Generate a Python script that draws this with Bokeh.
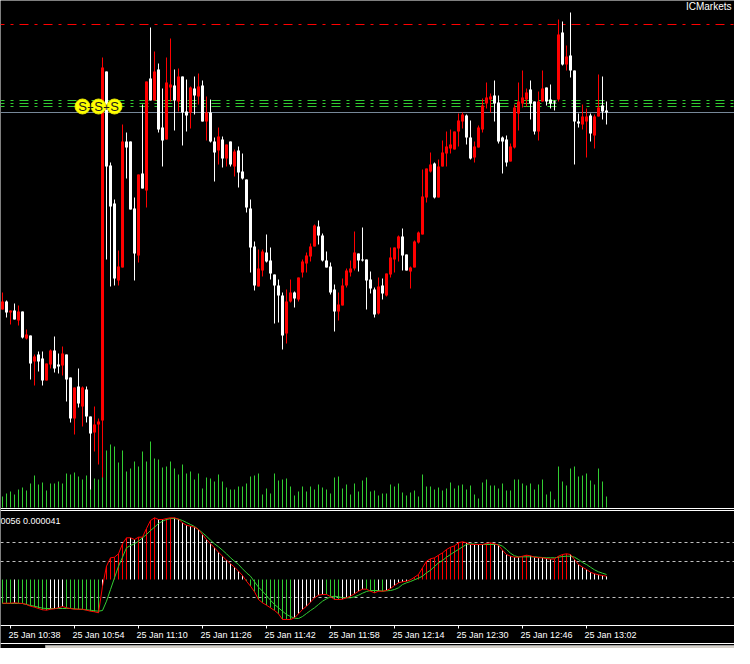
import numpy as np
from bokeh.plotting import figure
from bokeh.models import Range1d, Span
from bokeh.core.properties import value
from bokeh.embed import file_html
from bokeh.resources import INLINE

# ---------------- data (M1 bars, prices in points) ----------------
opens = [275,283,272,274,264,273,246,249,223,230, 226,204,220,234,220,219,230,207,166,198,
         178,195,168,152,160,164,513,419,381,304, 317,443,443,376,329,411,394,506,484,515,
         457,445,497,499,483,508,473,472,496,488, 499,463,472,443,434,445,426,443,418,434,
         413,405,376,338,298,314,332,324,310,299, 289,251,283,292,285,312,321,328,338,358,
         349,324,318,295,273,279,299,312,316,331, 325,325,305,295,271,299,289,310,325,336,
         348,330,313,317,342,350,387,413,421,387, 418,431,436,435,453,463,469,447,427,437,
         455,481,485,489,482,447,445,423,437,471, 481,485,495,483,453,483,497,485,483,485,
         552,520,529,514,463,460,463,469,449,468, 479,474]
highs = [292,284,274,281,279,273,255,249,230,233, 233,221,235,248,231,238,230,207,197,216,
         198,198,168,178,166,527,513,422,385,334, 460,452,443,387,410,480,503,557,533,521,
         496,527,546,515,516,508,505,498,508,511, 504,488,485,447,457,448,440,443,435,438,
         431,405,385,343,335,335,350,337,310,305, 292,295,305,293,307,325,332,341,360,364,
         351,333,322,300,292,306,316,324,353,331, 357,325,313,297,307,306,311,337,337,349,
         356,330,318,344,353,415,416,432,422,425, 444,453,455,453,471,472,470,464,443,459,
         486,502,491,504,489,448,449,441,480,502, 514,496,504,483,493,514,497,500,484,565,
         563,539,572,514,471,480,476,471,470,510, 508,483]
lows = [275,267,260,265,259,246,245,205,199,213, 199,204,216,212,211,209,183,162,150,177,
        158,162,95,133,120,107,325,298,299,299, 317,406,375,304,322,396,377,484,484,452,
        418,445,483,454,473,439,453,456,470,480, 463,444,442,403,420,417,418,418,408,397,
        405,372,312,294,298,308,322,305,261,262, 235,241,282,277,283,307,312,323,338,340,
        323,317,290,253,264,279,297,308,314,313, 323,275,291,267,270,285,288,307,312,323,
        314,314,296,317,341,350,382,412,386,387, 418,418,431,435,438,456,440,425,422,437,
        452,476,472,463,441,411,418,423,436,454, 477,478,465,450,444,483,479,476,474,483,
        519,514,507,420,457,455,427,443,436,468, 465,460]
closes = [283,272,274,265,273,247,250,221,228,223, 204,221,234,216,218,231,205,166,197,181,
          197,168,151,160,163,517,418,378,306,318, 443,437,375,331,410,396,503,484,513,455,
          444,502,500,484,508,472,469,497,489,498, 463,472,443,432,448,426,440,420,433,412,
          406,377,337,299,316,333,323,311,299,289, 249,283,292,286,307,323,329,338,359,349,
          324,317,292,273,280,299,314,316,332,324, 324,304,296,270,298,291,311,327,337,348,
          329,314,317,343,352,388,416,420,387,418, 432,438,440,453,464,470,447,426,438,457,
          479,487,488,481,443,443,422,438,477,483, 487,492,481,453,483,496,483,481,482,550,
          520,528,514,463,461,468,468,451,468,477, 473,472]
volumes = [11,14,16,13,18,20,17,24,32,23, 25,17,24,24,26,24,34,33,35,31,
           28,32,22,29,28,31,57,63,61,45, 57,36,39,46,41,56,46,66,49,48,
           40,41,46,39,33,43,34,36,28,34, 19,30,29,26,33,26,20,18,18,21,
           21,24,31,32,34,13,19,14,34,27, 28,29,21,12,16,21,16,21,18,23,
           20,18,14,30,31,19,23,13,24,16, 27,30,16,17,12,14,14,23,21,24,
           15,12,15,17,11,33,21,21,18,20, 17,19,25,19,22,23,18,22,13,9,
           25,28,22,22,19,24,17,17,28,28, 24,22,24,18,23,28,13,16,8,41,
           26,22,39,41,31,32,34,27,23,39, 26,11]
macd_main = [-23.7,-23.7,-23.7,-23.3,-23.7,-24,-25,-26.7,-27.7,-29,
             -30.3,-30.7,-29.7,-29.3,-28.3,-27,-28.3,-29,-29.7,-29.7,
             -29.7,-30.7,-31.7,-32.3,-33.3,-6.7,13.3,21.7,22.3,25.7,
             35.7,41.7,41.7,40,42.3,42.3,51,59,61.7,60,
             60,61,61.7,61.7,60.3,56.7,54.3,53.3,52.3,50,
             45,40,35.7,31.7,27.3,23.3,19.3,15.7,12.3,8.3,
             4,-1.7,-6.7,-12.3,-20,-23.3,-25.7,-28.3,-31,-34.3,
             -40,-40,-40,-38.3,-34.3,-30,-26.7,-22.7,-18.3,-15.7,
             -15,-15,-17,-20,-20,-19.7,-18.3,-16.7,-14.3,-11.7,
             -9.7,-9.7,-11.7,-13.3,-11.7,-11.7,-11,-9,-6,-3.3,
             -2.3,-1.7,-0.3,2.3,5,11.7,18.3,20.7,21.7,24.3,
             26.7,30,32.3,33.7,36.7,37.7,36.7,35,35,35,
             35,36,36.7,35.7,34.3,29.3,25,23.3,22.3,22.3,
             23.3,24.3,23.7,22.3,21.7,21.7,21,20.3,20.7,23.3,
             25,25.7,25,20,15,12.3,10,7.3,5.7,4.7,
             4,3.3]
macd_signal = [-24,-24,-24,-24,-24,-24,-25,-26,-26.7,-27.7,
               -28.7,-29,-29,-29,-29,-29,-29,-29,-29.3,-29.7,
               -30,-30.3,-30.7,-31.3,-31.7,-31,-21.7,-10,1.7,13.3,
               22.3,31.7,34,35.7,38.3,41.7,45,49,52.3,56,
               58.3,60,61,61,60.3,59,57,55,53,50,
               46.7,43.3,39.3,35.7,32.7,29.3,25.7,21.7,18.3,15,
               10.7,6.7,3.3,-2.3,-7.7,-11.7,-16,-20.7,-25,-28.3,
               -31.7,-35,-37,-38.7,-39,-37,-34,-31,-28.3,-25,
               -21.7,-19.3,-17.3,-16.7,-17.3,-18.3,-18.3,-18.3,-17.3,-15.7,
               -13.7,-12,-11,-11,-11,-11.7,-11.3,-11,-10,-8.3,
               -5,-3.3,-2,-0.3,1.3,3.3,6.7,9.3,13,16.7,
               19,22.3,25,27.7,30,32.7,35,35.7,35.3,35,
               35,35,35,35,35,33.3,30,26.3,23.7,22.7,
               22.7,22.7,22.7,22.7,22.3,22,21.7,21.7,21.7,22.3,
               23,23.3,23.3,22.3,20,17,15,12.3,9.7,7.7,
               6.3,5]
macd_levels = [37, 18, -18]
resistance_levels = [560]
support_levels = [484, 481, 478]
signal_bars = [20, 24, 28]
tick_bars = [2, 18, 34, 50, 66, 82, 98, 114, 130, 146]
tick_labels = ["25 Jan 10:38", "25 Jan 10:54", "25 Jan 11:10", "25 Jan 11:26", "25 Jan 11:42",
               "25 Jan 11:58", "25 Jan 12:14", "25 Jan 12:30", "25 Jan 12:46", "25 Jan 13:02"]
indicator_text = "0056 0.000041"
broker = "ICMarkets"

# ---------------- layout ----------------
W, H = 734, 648
TOP = 16          # rows of the reference left out at the top
REF_H = 664
BAR_PX = 4.0
X0 = -0.5
FONT = value("Liberation Sans")
RED, WHITE, GREEN = "#FF0000", "#FFFFFF", "#32CD32"

p = figure(width=W, height=H, output_backend="svg", toolbar_location=None,
           x_range=Range1d(X0, X0 + W / BAR_PX), y_range=Range1d(600 - REF_H, 600 - TOP),
           x_axis_location=None, y_axis_location=None, min_border=0,
           background_fill_color="black", border_fill_color="black", outline_line_color=None)
p.xgrid.visible = False
p.ygrid.visible = False
p.extra_y_ranges = {"vol": Range1d(523 - REF_H, 523 - TOP),
                    "macd": Range1d(595 - REF_H, 595 - TOP),
                    "px": Range1d(REF_H, TOP)}

idx = np.arange(len(opens))
o = np.array(opens, float); c = np.array(closes, float)
up = c > o
btop = np.maximum(o, c)
bbot = np.minimum(o, c)
bbot = np.where(btop - bbot < 1, btop - 1, bbot)
ccol = np.where(up, RED, WHITE)

# horizontal levels (behind the bars)
for lv in resistance_levels:
    p.add_layout(Span(location=lv, dimension="width", line_color=RED, line_width=1,
                      line_dash="9 6 3 6", line_dash_offset=5, level="underlay"))
for lv in support_levels:
    p.add_layout(Span(location=lv, dimension="width", line_color=GREEN, line_width=1,
                      line_dash="9 6 3 6", line_dash_offset=5, level="underlay"))
p.add_layout(Span(location=closes[-1], dimension="width", line_color="#778899",
                  line_width=1, level="underlay"))

# volumes
p.segment(idx, 0, idx, volumes, y_range_name="vol", line_color=GREEN, line_width=1)

# candles
p.segment(idx, lows, idx, highs, line_color=ccol, line_width=1)
p.vbar(x=idx, width=0.75, top=btop, bottom=bbot, fill_color=ccol, line_color=None)

# signal marks
sy = support_levels[-1]
p.scatter(x=signal_bars, y=[sy] * len(signal_bars), size=15, fill_color="#FFFF00",
          line_color="#E6E600")
p.text(x=signal_bars, y=[sy] * len(signal_bars), text=["S"] * len(signal_bars),
       text_align="center", text_baseline="middle", text_color="#1A1A1A",
       text_font=FONT, text_font_size="13px")
mids = [(a + b) / 2 for a, b in zip(signal_bars[:-1], signal_bars[1:])]
p.text(x=mids, y=[sy] * len(mids), text=["+"] * len(mids), text_align="center",
       text_baseline="middle", text_color="#1A1A1A", text_font=FONT, text_font_size="11px")

p.text(x=[X0 + 731 / BAR_PX], y=[TOP + 6], text=[broker], y_range_name="px", text_align="right",
       text_baseline="middle", text_color=WHITE, text_font=FONT, text_font_size="10px")

# panel separators
for yy in (524, 526):
    p.add_layout(Span(location=yy, dimension="width", y_range_name="px", line_color=WHITE, line_width=1))

# MACD panel
for lv in macd_levels:
    p.add_layout(Span(location=lv, dimension="width", y_range_name="macd", line_color="#C0C0C0",
                      line_width=1, line_dash="3 3", level="underlay"))
m = np.array(macd_main)
prev = np.concatenate([[m[0]], m[:-1]])
rising = m > prev
hcol = np.where(m >= 0, np.where(rising, RED, WHITE), np.where(rising, WHITE, GREEN))
p.segment(idx, 0, idx, macd_main, y_range_name="macd", line_color=hcol, line_width=1)
p.line(idx, macd_signal, y_range_name="macd", line_color=GREEN, line_width=1)
p.line(idx, macd_main, y_range_name="macd", line_color=RED, line_width=1)
p.text(x=[X0], y=[536], text=[indicator_text], y_range_name="px", text_align="left",
       text_baseline="middle", text_color=WHITE, text_font=FONT, text_font_size="9px")

# time axis
p.add_layout(Span(location=641, dimension="width", y_range_name="px", line_color=WHITE, line_width=1))
p.segment(tick_bars, 641, tick_bars, 644, y_range_name="px", line_color=WHITE, line_width=1)
p.text(x=[t - 0.5 for t in tick_bars], y=[650] * len(tick_bars), text=tick_labels,
       y_range_name="px", text_align="left", text_baseline="middle", text_color=WHITE,
       text_font=FONT, text_font_size="9px")

# window bottom edge
p.add_layout(Span(location=659, dimension="width", y_range_name="px", line_color=WHITE, line_width=1))
p.quad(left=[X0 + 45 / BAR_PX], right=[X0 + W / BAR_PX], top=[661], bottom=[664],
       y_range_name="px", fill_color="#D4D0C8", line_color="#A0A0A0")

open("out.html", "w").write(file_html(p, INLINE))
